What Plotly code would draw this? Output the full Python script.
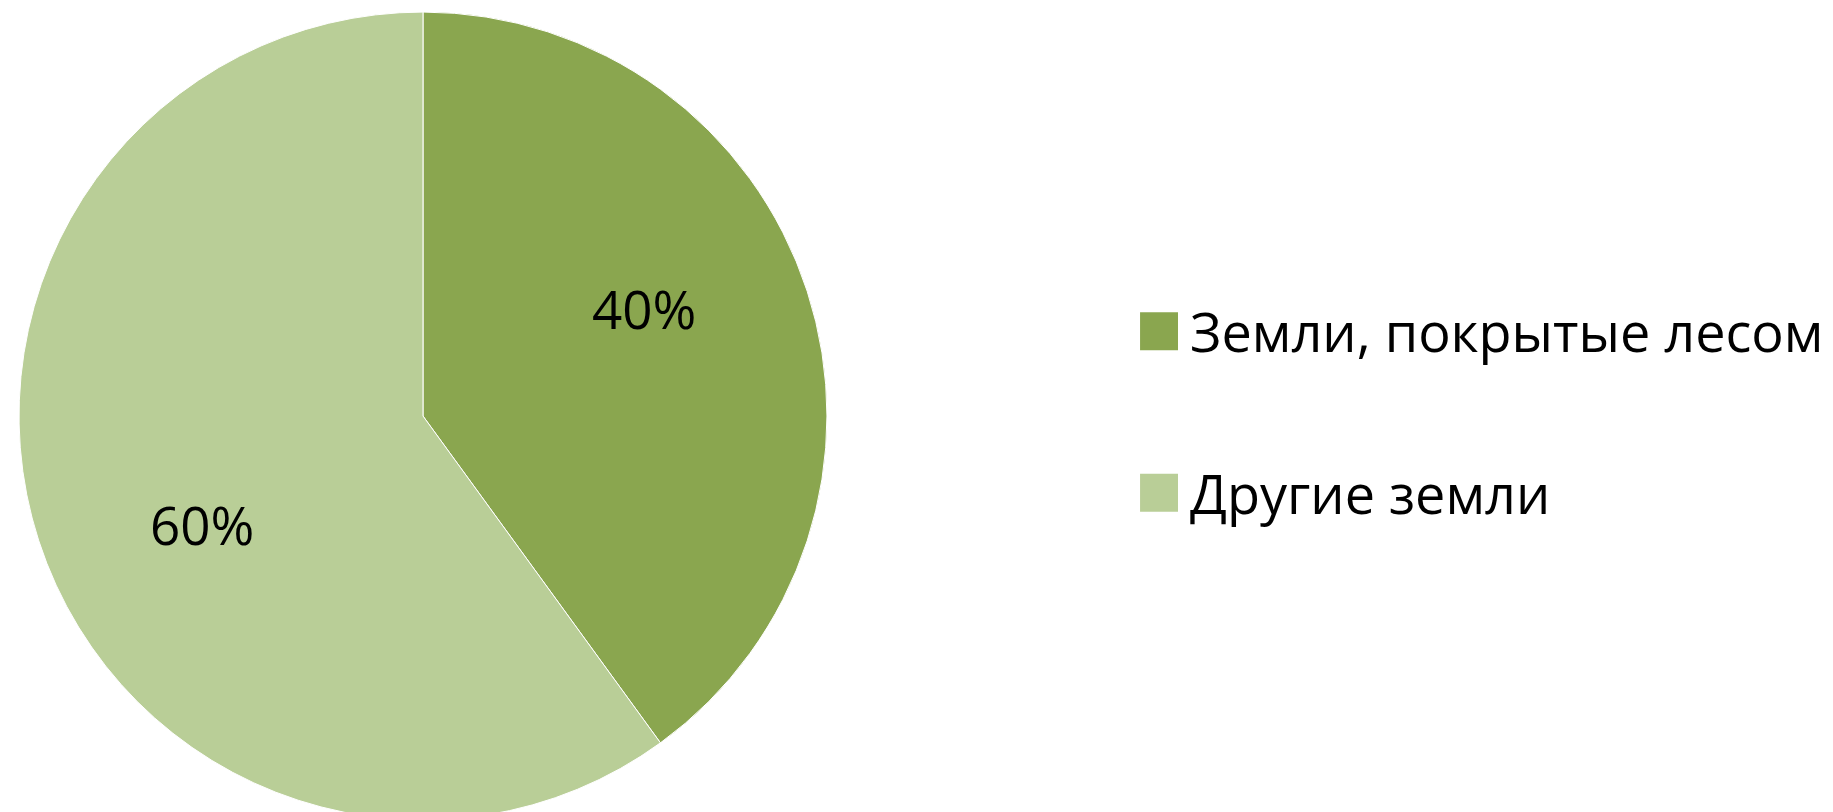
import math
import plotly.graph_objects as go

labels = ["Земли, покрытые лесом", "Другие земли"]
values = [40, 60]
colors = ["#8AA64F", "#B9CE97"]

FONT = "Open Sans"
W, H = 1833, 812
DOM_X = [0.0060, 0.4468]
DOM_Y = [0.0, 0.995]

fig = go.Figure()
fig.add_trace(go.Pie(
    labels=labels,
    values=values,
    sort=False,
    direction="clockwise",
    rotation=0,
    marker=dict(colors=colors, line=dict(color="white", width=1)),
    textinfo="none",
    domain=dict(x=DOM_X, y=DOM_Y),
    showlegend=False,
    hoverinfo="label+percent",
))

# percentage labels placed from the slice angles
cx = (DOM_X[0] + DOM_X[1]) / 2 * W
cy = (1 - (DOM_Y[0] + DOM_Y[1]) / 2) * H
R = min((DOM_X[1] - DOM_X[0]) * W, (DOM_Y[1] - DOM_Y[0]) * H) / 2
total = sum(values)
start = 0.0
for v in values:
    frac = v / total
    mid = (start + frac / 2) * 360 - 8
    start += frac
    th = math.radians(mid)
    px = cx + 0.61 * R * math.sin(th)
    py = cy - 0.61 * R * math.cos(th)
    fig.add_annotation(x=px / W, y=1 - py / H, xref="paper", yref="paper",
                       text=f"{round(frac * 100)}%", showarrow=False,
                       xanchor="center", yanchor="middle",
                       font=dict(family=FONT, size=53, color="black"))

# manual legend with large square keys
legend_y = [0.602, 0.403]
for lab, col, yy in zip(labels, colors, legend_y):
    fig.add_shape(type="rect", xref="paper", yref="paper",
                  x0=0.6176, x1=0.6383, y0=yy - 0.0234, y1=yy + 0.0234,
                  fillcolor=col, line=dict(width=0))
    fig.add_annotation(x=0.6440, y=yy, xref="paper", yref="paper",
                       text=lab, showarrow=False, xanchor="left", yanchor="middle",
                       font=dict(family=FONT, size=54, color="black"))

fig.update_layout(
    width=W, height=H,
    margin=dict(l=0, r=0, t=0, b=0),
    paper_bgcolor="white", plot_bgcolor="white",
)
fig.write_html("out.html")
